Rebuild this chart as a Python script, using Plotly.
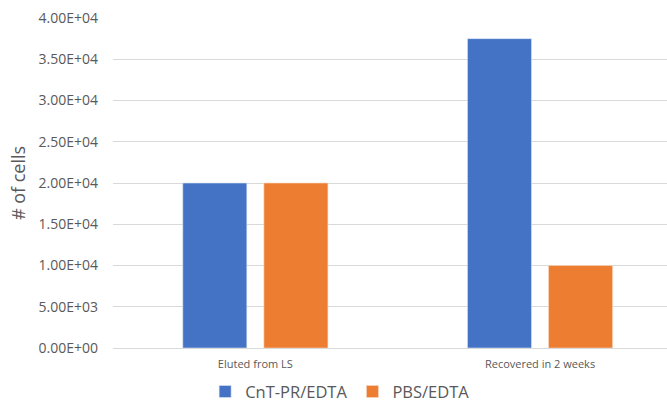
import plotly.graph_objects as go

categories = ["Eluted from LS", "Recovered in 2 weeks"]
cnt_pr_edta = [20000, 37500]
pbs_edta = [20000, 10000]
y_ticks = [0, 5000, 10000, 15000, 20000, 25000, 30000, 35000, 40000]
y_tick_labels = ["0.00E+00", "5.00E+03", "1.00E+04", "1.50E+04", "2.00E+04",
                 "2.50E+04", "3.00E+04", "3.50E+04", "4.00E+04"]

fig = go.Figure()
fig.add_trace(go.Bar(
    name="CnT-PR/EDTA", x=categories, y=cnt_pr_edta,
    marker=dict(color="#4472C4", line=dict(color="#DDE6F5", width=0.6)),
))
fig.add_trace(go.Bar(
    name="PBS/EDTA", x=categories, y=pbs_edta,
    marker=dict(color="#ED7D31", line=dict(color="#F8DCC8", width=0.6)),
))

fig.update_layout(
    width=667, height=406,
    margin=dict(l=113, r=0, t=18, b=58, autoexpand=False),
    plot_bgcolor="white", paper_bgcolor="white",
    barmode="group", bargap=0.4304, bargroupgap=0.21,
    font=dict(family="Open Sans, Noto Sans, sans-serif", color="#595959"),
    showlegend=True,
    legend=dict(
        orientation="h", x=0.41, xanchor="center",
        yref="container", y=0.035, yanchor="middle",
        font=dict(size=16.5, color="#595959"), tracegroupgap=0,
    ),
    xaxis=dict(
        range=[-0.5, 1.446], showgrid=False, zeroline=False,
        showline=True, linecolor="#D9D9D9", linewidth=1,
        tickfont=dict(size=11, color="#595959"), ticks="", ticklabelstandoff=6,
    ),
    yaxis=dict(
        range=[0, 40000], tickvals=y_ticks, ticktext=y_tick_labels,
        showgrid=True, gridcolor="#D9D9D9", gridwidth=1,
        zeroline=False, showline=False,
        tickfont=dict(size=14, color="#595959"), ticklabelstandoff=14,
        title=dict(text="# of cells", font=dict(size=18, color="#595959"), standoff=8),
    ),
)

fig.write_html("out.html")
